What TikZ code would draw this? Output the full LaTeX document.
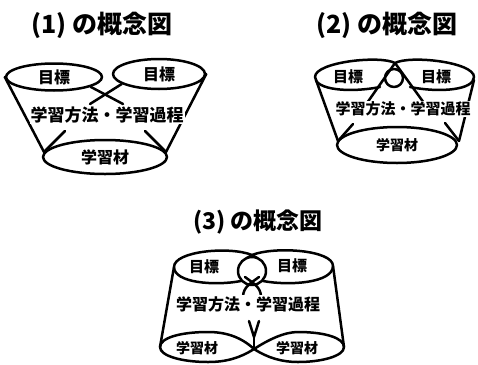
\documentclass[tikz,border=0pt]{standalone}
\usepackage{fontspec}
\newfontfamily\jp{Noto Sans CJK JP}
\usetikzlibrary{shapes.geometric}
\tikzset{
  ln/.style={line width=2.5pt, line cap=round, line join=round},
  ell/.style={ellipse, draw, ln, inner sep=0pt},
  j/.style={font=\jp\bfseries\fontsize{#1}{#1}\selectfont, inner sep=0pt},
  ttl/.style={font=\jp\bfseries\fontsize{#1}{#1}\selectfont, inner sep=0pt},
  mid/.style={j=#1, fill=white, inner sep=1pt},
}
\begin{document}
\begin{tikzpicture}[x=1pt,y=-1pt]
\useasboundingbox (0,0) rectangle (478,364);

% ---------- (1) ----------
\node[ttl=25] (T1) at (102,25) {(1) の概念図};
\node[ell, j=16, minimum width=96pt, minimum height=27pt] (t1a) at (54,77) {目標};
\node[ell, j=16, minimum width=92pt, minimum height=30pt] (t1b) at (159,74) {目標};
\coordinate (c1a) at (123,104);
\coordinate (c1b) at (90,104);
\draw[ln] (t1a.-15) -- (c1a);
\draw[ln] (t1b.195) -- (c1b);
\node[ell, j=16, minimum width=124pt, minimum height=34pt] (b1) at (105,157) {学習材};
\coordinate (s1l) at (44,152);
\coordinate (s1r) at (166,152);
\coordinate (a1l) at (65,131);
\coordinate (a1r) at (145,131);
\draw[ln] (t1a.west) -- (s1l);
\draw[ln] (a1l) -- (s1l);
\draw[ln] (t1b.east) -- (s1r);
\draw[ln] (a1r) -- (s1r);
\node[mid=17] (m1) at (107,115) {学習方法・学習過程};

% ---------- (2) ----------
\node[ttl=25] (T2) at (387,25) {(2) の概念図};
\coordinate (p2) at (395,63);
\coordinate (x2a) at (424,103);
\coordinate (x2b) at (367,103);
\draw[ln] (380,87) .. controls (350,93) and (315,90) .. (315,77)
  .. controls (315,62) and (380,55) .. (p2) -- (x2a);
\draw[ln] (410,87) .. controls (440,93) and (474,90) .. (474,77)
  .. controls (474,62) and (410,55) .. (p2) -- (x2b);
\node[circle, draw, ln, minimum size=18pt, inner sep=0pt] (o2) at (394,78) {};
\node[j=15] (g2a) at (348,77) {目標};
\node[j=15] (g2b) at (436,77) {目標};
\node[ell, j=14, minimum width=120pt, minimum height=36pt] (b2) at (397,145) {学習材};
\coordinate (u2l) at (316,80);
\coordinate (u2r) at (474,80);
\coordinate (s2l) at (338,141);
\coordinate (s2r) at (459,141);
\coordinate (a2l) at (353,124);
\coordinate (a2r) at (445,123);
\draw[ln] (u2l) -- (s2l);
\draw[ln] (a2l) -- (s2l);
\draw[ln] (u2r) -- (s2r);
\draw[ln] (a2r) -- (s2r);
\node[mid=15] (m2) at (403,109) {学習方法・学習過程};

% ---------- (3) ----------
\node[ttl=23] (T3) at (258,222) {(3) の概念図};
\coordinate (p3) at (252,255);
\coordinate (u3l) at (174,267);
\coordinate (u3r) at (333,266);
\draw[ln] (241,281) .. controls (215,286) and (174,283) .. (u3l)
  .. controls (174,251) and (230,246) .. (p3) -- (257,258);
\draw[ln] (263,281) .. controls (289,286) and (333,283) .. (u3r)
  .. controls (333,250) and (275,246) .. (p3) -- (247,258);
\node[circle, draw, ln, minimum size=28pt, inner sep=0pt] (o3) at (252,271) {};
\draw[ln] (259,277) .. controls (251,283) and (243,287) .. (243,297);
\draw[ln] (245,277) .. controls (253,283) and (261,287) .. (261,297);
\node[j=15] (g3a) at (204,267) {目標};
\node[j=15] (g3b) at (292,266) {目標};
% bottom figure-eight
\coordinate (k3) at (254,349);
\coordinate (e3l) at (160,347);
\coordinate (e3r) at (344,347);
\draw[ln] (k3) .. controls (240,336) and (224,332) .. (208,332)
  .. controls (180,332) and (160,338) .. (e3l)
  .. controls (160,356) and (182,362) .. (208,362)
  .. controls (226,362) and (240,358) .. (k3)
  .. controls (268,340) and (284,332) .. (298,332)
  .. controls (325,332) and (344,338) .. (e3r)
  .. controls (344,356) and (322,362) .. (298,362)
  .. controls (282,362) and (268,358) .. (k3);
\node[j=14] (l3a) at (197,348) {学習材};
\node[j=14] (l3b) at (297,348) {学習材};
\coordinate (v3l) at (249,321);
\coordinate (v3r) at (259,321);
\coordinate (v3) at (254,337);
\draw[ln] (v3l) -- (v3) -- (v3r);
\draw[ln] (v3) -- (k3);
\draw[ln] (u3l) -- (e3l);
\draw[ln] (u3r) -- (e3r);
\node[mid=16] (m3) at (248,304) {学習方法・学習過程};
\end{tikzpicture}
\end{document}
